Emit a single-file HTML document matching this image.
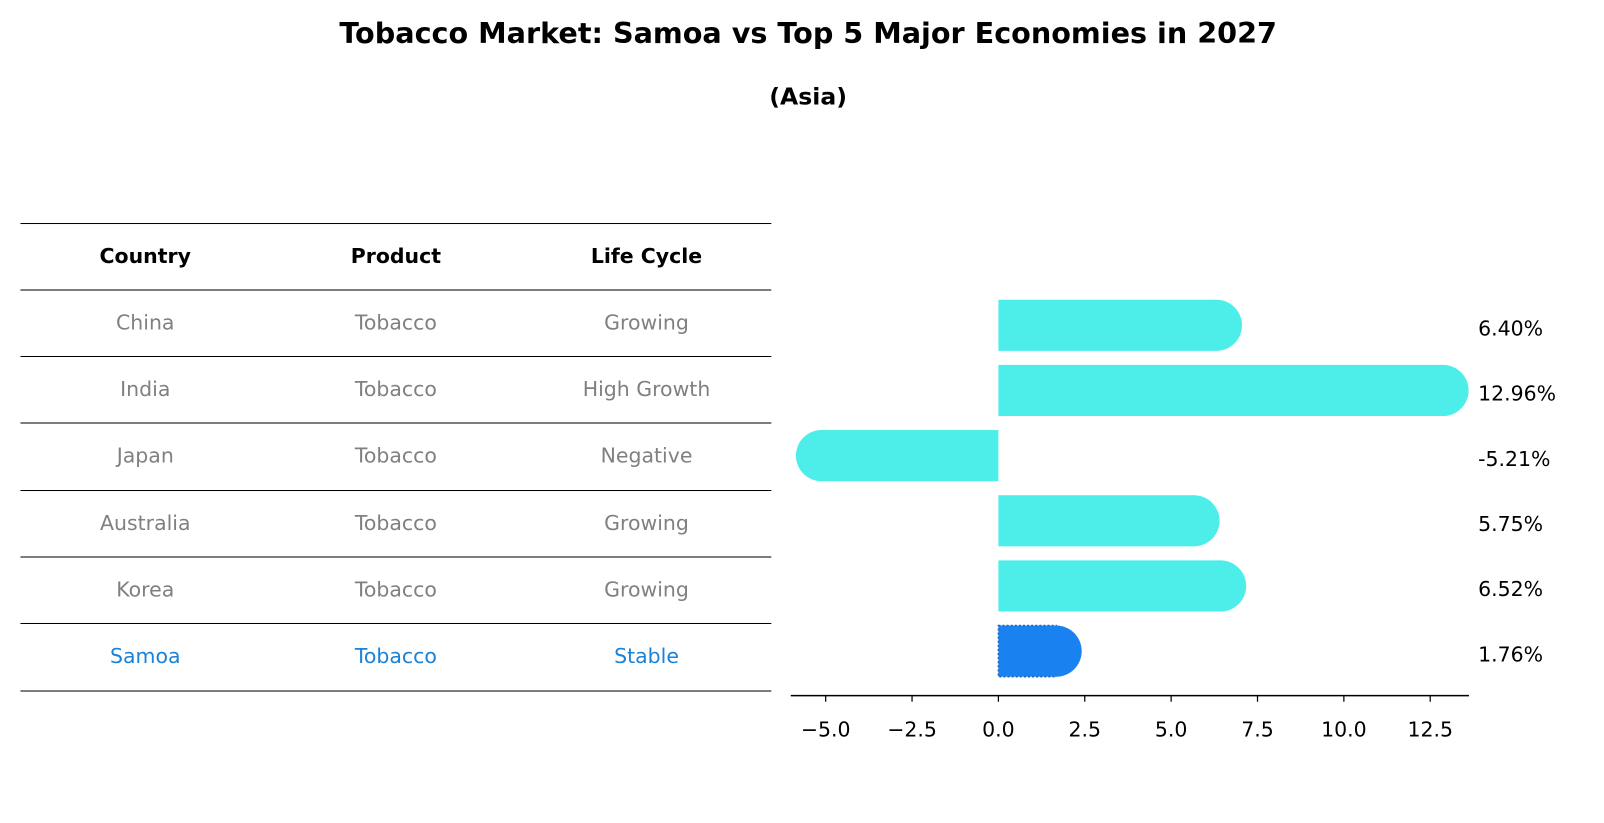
<!DOCTYPE html>
<html><head><meta charset="utf-8"><style>
html,body{margin:0;padding:0;background:#fff;overflow:hidden}
#wrap{position:absolute;left:0;top:0;width:1568px;height:805px;transform:scale(1.02296);transform-origin:0 0;font-family:"DejaVu Sans","Liberation Sans",sans-serif}
.t{position:absolute;text-align:center}
.hl{position:absolute;left:20px;width:734px;height:1px;background:#000}
.c{position:absolute;width:240px;text-align:center;font-size:20px;color:#808080;transform:translateY(-50%)}
</style></head><body>
<div id="wrap">
<div class="t" style="left:0;width:1580px;top:16px;font-size:28px;font-weight:bold">Tobacco Market: Samoa vs Top 5 Major Economies in 2027</div>
<div class="t" style="left:0;width:1580px;top:82px;font-size:23px;font-weight:bold">(Asia)</div>
<div id="table"></div>
<svg id="svg" width="1568" height="805" style="position:absolute;left:0;top:0;font-family:'DejaVu Sans',sans-serif"></svg>
</div>
<script>
const countries=["China","India","Japan","Australia","Korea","Samoa"];
const products=["Tobacco","Tobacco","Tobacco","Tobacco","Tobacco","Tobacco"];
const lifeCycles=["Growing","High Growth","Negative","Growing","Growing","Stable"];
const growth=[6.40,12.96,-5.21,5.75,6.52,1.76];
const ticks=[-5.0,-2.5,0.0,2.5,5.0,7.5,10.0,12.5];

const tbl=document.getElementById('table');
const lines=[218,283,348,413,479,544,609,675];
lines.forEach((y,i)=>{const d=document.createElement('div');d.className='hl';d.style.top=y+'px';


tbl.appendChild(d);});
const colX=[142,387,632];
const heads=["Country","Product","Life Cycle"];
heads.forEach((h,j)=>{const d=document.createElement('div');d.className='c';d.textContent=h;
d.style.left=(colX[j]-120)+'px';d.style.top='250px';d.style.color='#000';d.style.fontWeight='bold';


tbl.appendChild(d);});
countries.forEach((c,i)=>{[c,products[i],lifeCycles[i]].forEach((v,j)=>{const d=document.createElement('div');d.className='c';d.textContent=v;
d.style.left=(colX[j]-120)+'px';d.style.top=(315+i*65.2)+'px';if(c==='Samoa')d.style.color='#1a82d8';


tbl.appendChild(d);});});

const svg=document.getElementById('svg');const NS='http://www.w3.org/2000/svg';
const x0=976,ppu=33.77;
const xs=v=>x0+v*ppu;
const yc=i=>318+i*63.7;
function mk(t,a){const e=document.createElementNS(NS,t);for(const k in a)e.setAttribute(k,a[k]);svg.appendChild(e);return e;}
growth.forEach((v,i)=>{
 const col=i===5?'#1a82f0':'#4deeea';
 const a=xs(0),r=25,b=xs(v)-Math.sign(v)*3,y=yc(i),h=50;
 const L=Math.min(a,b),W=Math.abs(b-a);
 const g=document.createElementNS(NS,'g');
 
 
 svg.appendChild(g);
 const rc=document.createElementNS(NS,'rect');rc.setAttribute('x',L);rc.setAttribute('y',y-h/2);rc.setAttribute('width',W);rc.setAttribute('height',h);rc.setAttribute('fill',col);
 if(i===5){rc.setAttribute('stroke','#1766c0');rc.setAttribute('stroke-dasharray','2 2');rc.setAttribute('stroke-width','1.5');}
 g.appendChild(rc);
 const ci=document.createElementNS(NS,'circle');ci.setAttribute('cx',b);ci.setAttribute('cy',y);ci.setAttribute('r',r);ci.setAttribute('fill',col);g.appendChild(ci);
 const t=mk('text',{x:1445,y:y+10,'font-size':20,fill:'#000'});t.textContent=v.toFixed(2)+'%';
 
 
});
const ax=mk('line',{x1:773,x2:1436,y1:680,y2:680,stroke:'#000','stroke-width':1.5});


ticks.forEach(v=>{mk('line',{x1:xs(v),x2:xs(v),y1:680,y2:686,stroke:'#000','stroke-width':1.2});
 const t=mk('text',{x:xs(v),y:720,'font-size':20,'text-anchor':'middle',fill:'#000'});t.textContent=(v<0?'\u2212':'')+Math.abs(v).toFixed(1);
 
 
});
</script>
</body></html>
